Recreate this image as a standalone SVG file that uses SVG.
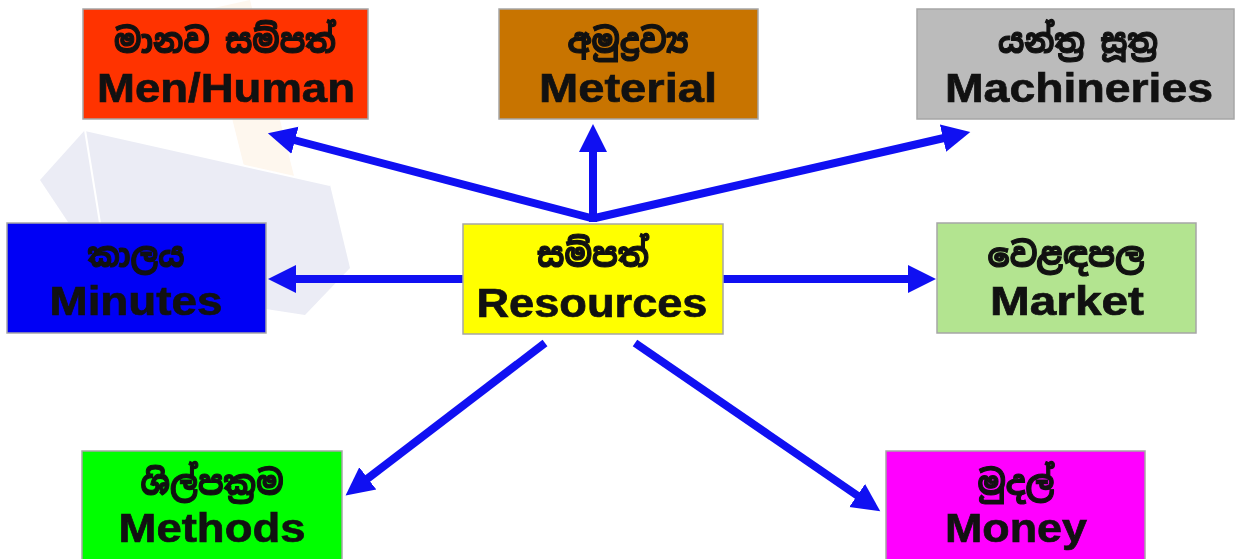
<svg xmlns="http://www.w3.org/2000/svg" width="1235" height="559" viewBox="0 0 1235 559">
<style>
.box{stroke:#A6A6A6;stroke-width:1.5}
.si{font-family:"Noto Sans Sinhala","Noto Sans","DejaVu Sans",sans-serif;font-weight:bold;font-size:34px;fill:#111;stroke:#111;stroke-width:1.1;text-anchor:middle}
.en{font-family:"Liberation Sans",Arial,sans-serif;font-weight:bold;font-size:41px;fill:#111;stroke:#111;stroke-width:0.7;text-anchor:middle}
.conn{stroke:#1010F2;stroke-width:8;fill:none;marker-end:url(#ah)}
</style>
<defs>
<marker id="ah" markerUnits="userSpaceOnUse" markerWidth="30" markerHeight="30" refX="1" refY="14" orient="auto" viewBox="0 0 30 28">
<path d="M0,0 L28,14 L0,28 z" fill="#1010F2"/>
</marker>
</defs>
<rect width="1235" height="559" fill="#FFFFFF"/>
<g id="watermark" opacity="0.5">
<polygon points="205,10 250,0 300,200 255,210" fill="#FCE3C4" opacity="0.6"/>
<polygon points="40,180 85,130 330,185 350,268 305,315 110,285" fill="#D6D9EA"/>
<polyline points="85,130 110,285" stroke="#FFFFFF" stroke-width="2" fill="none"/>
<polyline points="85,130 330,185" stroke="#FFFFFF" stroke-width="2" fill="none"/>
</g>
<g id="connectors">
<line class="conn" x1="591" y1="218" x2="294" y2="140"/>
<line class="conn" x1="593" y1="222" x2="593" y2="151"/>
<line class="conn" x1="595" y1="218" x2="944" y2="138"/>
<line class="conn" x1="463" y1="279" x2="295" y2="279"/>
<line class="conn" x1="723" y1="279" x2="909" y2="279"/>
<line class="conn" x1="545" y1="343" x2="367" y2="479"/>
<line class="conn" x1="635" y1="343" x2="858" y2="496"/>
</g>
<g id="men">
<rect class="box" x="83" y="9" width="285" height="110" fill="#FF3300"/>
<text class="si" x="225" y="53" textLength="222" lengthAdjust="spacingAndGlyphs">මානව සම්පත්</text>
<text class="en" x="226" y="102" textLength="258" lengthAdjust="spacingAndGlyphs">Men/Human</text>
</g>
<g id="material">
<rect class="box" x="499" y="9" width="259" height="110" fill="#C87400"/>
<text class="si" x="628" y="53" textLength="121" lengthAdjust="spacingAndGlyphs">අමුද්‍රව්‍ය</text>
<text class="en" x="628" y="102" textLength="178" lengthAdjust="spacingAndGlyphs">Meterial</text>
</g>
<g id="machineries">
<rect class="box" x="917" y="9" width="317" height="110" fill="#BBBBBB"/>
<text class="si" x="1078" y="53" textLength="160" lengthAdjust="spacingAndGlyphs">යන්ත්‍ර සූත්‍ර</text>
<text class="en" x="1079" y="102" textLength="268" lengthAdjust="spacingAndGlyphs">Machineries</text>
</g>
<g id="minutes">
<rect class="box" x="7" y="223" width="259" height="110" fill="#0000F5"/>
<text class="si" x="136" y="267" textLength="97" lengthAdjust="spacingAndGlyphs">කාලය</text>
<text class="en" x="136" y="315" textLength="173" lengthAdjust="spacingAndGlyphs">Minutes</text>
</g>
<g id="resources">
<rect class="box" x="463" y="224" width="260" height="110" fill="#FFFF00"/>
<text class="si" x="593" y="267" textLength="112" lengthAdjust="spacingAndGlyphs">සම්පත්</text>
<text class="en" x="592" y="317" textLength="231" lengthAdjust="spacingAndGlyphs">Resources</text>
</g>
<g id="market">
<rect class="box" x="937" y="223" width="259" height="110" fill="#B3E490"/>
<text class="si" x="1066" y="267" textLength="157" lengthAdjust="spacingAndGlyphs">වෙළඳපල</text>
<text class="en" x="1067" y="315" textLength="154" lengthAdjust="spacingAndGlyphs">Market</text>
</g>
<g id="methods">
<rect class="box" x="82" y="451" width="260" height="115" fill="#00FF00"/>
<text class="si" x="212" y="495" textLength="143" lengthAdjust="spacingAndGlyphs">ශිල්පක්‍රම</text>
<text class="en" x="212" y="542" textLength="187" lengthAdjust="spacingAndGlyphs">Methods</text>
</g>
<g id="money">
<rect class="box" x="886" y="451" width="259" height="115" fill="#FF00FF"/>
<text class="si" x="1016" y="495" textLength="77" lengthAdjust="spacingAndGlyphs">මුදල්</text>
<text class="en" x="1016" y="542" textLength="142" lengthAdjust="spacingAndGlyphs">Money</text>
</g>
</svg>
